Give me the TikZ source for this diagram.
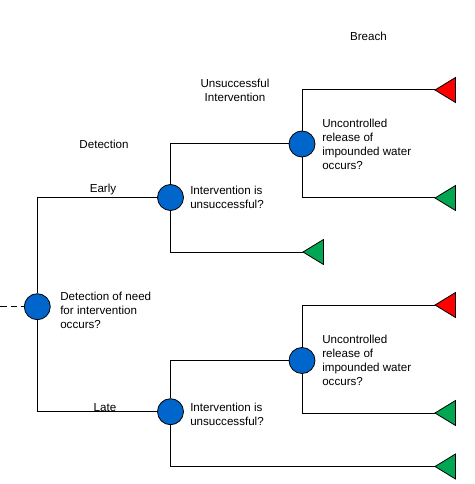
\documentclass[tikz,border=0pt]{standalone}
\usepackage{fontspec}
\setmainfont{Liberation Sans}
\definecolor{chance}{RGB}{0,102,204}
\definecolor{endred}{RGB}{255,0,0}
\definecolor{endgreen}{RGB}{0,166,81}
\begin{document}
\begin{tikzpicture}[x=0.75pt,y=-0.75pt,
  chancenode/.style={circle,draw=black,fill=chance,minimum size=19.5pt,inner sep=0pt,line width=0.6pt},
  conn/.style={draw=black,line width=0.75pt},
  lbl/.style={font=\fontsize{8.7pt}{10.5pt}\selectfont,inner sep=0pt,align=left},
  clbl/.style={font=\fontsize{8.7pt}{10.5pt}\selectfont,inner sep=0pt,align=center},
  redend/.style={fill=endred,draw=black,line width=0.6pt},
  greenend/.style={fill=endgreen,draw=black,line width=0.6pt}]
\useasboundingbox (0,0) rectangle (474,484);

% header labels
\node[clbl] (hbreach) at (368.5,36.7) {Breach};
\node[clbl] (hint) at (235,90.3) {Unsuccessful\\Intervention};
\node[clbl] (hdet) at (104,144.7) {Detection};

% chance nodes
\node[chancenode] (root) at (37.3,306.7) {};
\node[chancenode] (int1) at (170.5,197.5) {};
\node[chancenode] (int2) at (170.5,411.7) {};
\node[chancenode] (br1) at (302,144) {};
\node[chancenode] (br2) at (302,360.5) {};

% start
\coordinate (start) at (0,306.7);
\draw[conn,dash pattern=on 5pt off 3pt] (start) -- (root);

% terminal tips
\coordinate (t1) at (435,90);
\coordinate (t2) at (435,198);
\coordinate (t3) at (303,252);
\coordinate (t4) at (435,305);
\coordinate (t5) at (435,413);
\coordinate (t6) at (435,466.5);

% connectors
\draw[conn] (root) |- (int1);
\draw[conn] (root) |- (int2);
\draw[conn] (int1) |- (br1);
\draw[conn] (int1) |- (t3);
\draw[conn] (int2) |- (br2);
\draw[conn] (int2) |- (t6);
\draw[conn] (br1) |- (t1);
\draw[conn] (br1) |- (t2);
\draw[conn] (br2) |- (t4);
\draw[conn] (br2) |- (t5);

% terminal triangles
\path[redend] (t1) -- ++(20.5,-12.5) -- ++(0,25) -- cycle;
\path[greenend] (t2) -- ++(20.5,-12.5) -- ++(0,25) -- cycle;
\path[greenend] (t3) -- ++(20.5,-12.5) -- ++(0,25) -- cycle;
\path[redend] (t4) -- ++(20.5,-12.5) -- ++(0,25) -- cycle;
\path[greenend] (t5) -- ++(20.5,-12.5) -- ++(0,25) -- cycle;
\path[greenend] (t6) -- ++(20.5,-12.5) -- ++(0,25) -- cycle;

% branch labels
\node[clbl] (learly) at (103,190) {Early};
\node[clbl] (llate) at (105,408) {Late};

% node texts
\node[lbl,anchor=west] (troot) at (60,310.5) {Detection of need\\for intervention\\occurs?};
\node[lbl,anchor=west] (tint1) at (190,197.5) {Intervention is\\unsuccessful?};
\node[lbl,anchor=west] (tint2) at (190,414) {Intervention is\\unsuccessful?};
\node[lbl,anchor=west] (tbr1) at (322,144) {Uncontrolled\\release of\\impounded water\\occurs?};
\node[lbl,anchor=west] (tbr2) at (322,360) {Uncontrolled\\release of\\impounded water\\occurs?};
\end{tikzpicture}
\end{document}
